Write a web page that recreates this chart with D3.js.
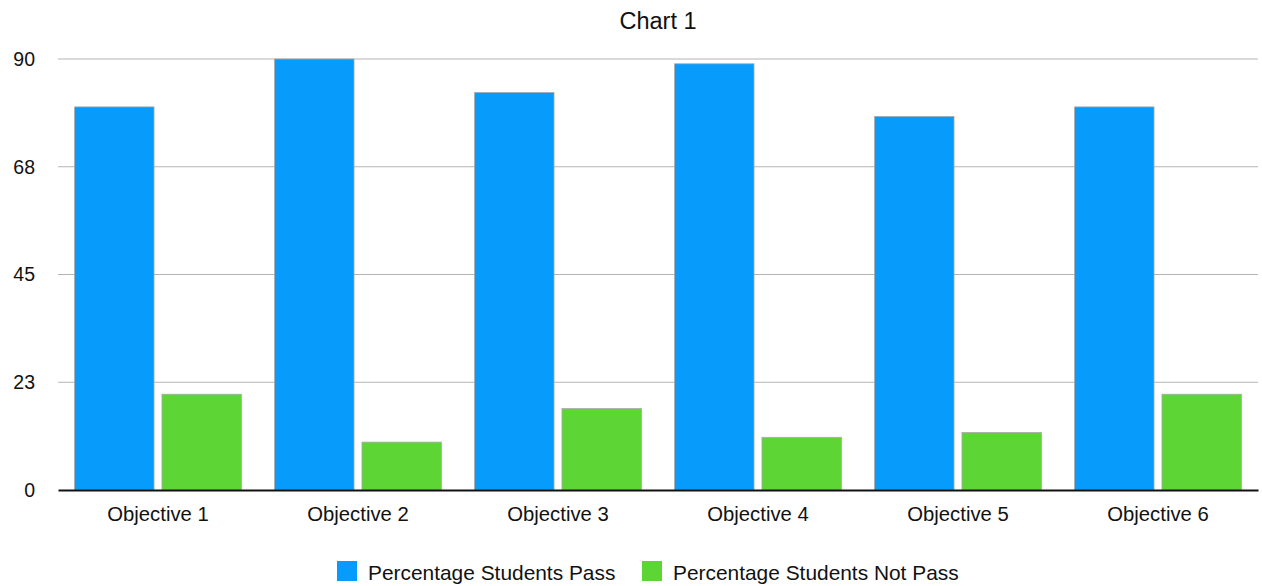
<!DOCTYPE html>
<html>
<head>
<meta charset="utf-8">
<script src="https://cdn.jsdelivr.net/npm/d3@7"></script>
<style>
  html, body { margin: 0; padding: 0; background: #fff; }
  svg { display: block; }
  text { font-family: "Liberation Sans", Arial, Helvetica, sans-serif; fill: #111; }
</style>
</head>
<body>
<svg id="chart" width="1262" height="586"></svg>
<script>
// Chart data
const categories = ["Objective 1", "Objective 2", "Objective 3", "Objective 4", "Objective 5", "Objective 6"];
const seriesNames = ["Percentage Students Pass", "Percentage Students Not Pass"];
const passValues = [80, 90, 83, 89, 78, 80];
const notPassValues = [20, 10, 17, 11, 12, 20];
const tickValues = [0, 22.5, 45, 67.5, 90];
const tickLabels = ["0", "23", "45", "68", "90"];
const seriesColors = ["#079bfc", "#5cd535"];

const width = 1262, height = 586;
const plot = { left: 58, right: 1258, top: 59, bottom: 490 };

const svg = d3.select("#chart");

const x = d3.scaleBand()
  .domain(categories)
  .range([plot.left, plot.right])
  .paddingInner(0)
  .paddingOuter(0);

const xInner = d3.scaleBand()
  .domain(seriesNames)
  .range([0, x.bandwidth()])
  .paddingInner(8 / 88)
  .paddingOuter(0.19);

const y = d3.scaleLinear()
  .domain([0, 90])
  .range([plot.bottom, plot.top]);

// Title
svg.append("text")
  .attr("x", (plot.left + plot.right) / 2)
  .attr("y", 29)
  .attr("text-anchor", "middle")
  .style("font-size", "23.5px")
  .text("Chart 1");

// Horizontal gridlines
svg.append("g")
  .selectAll("line")
  .data(tickValues.filter(v => v > 0))
  .join("line")
  .attr("x1", plot.left)
  .attr("x2", plot.right)
  .attr("y1", d => y(d))
  .attr("y2", d => y(d))
  .attr("stroke", "#b4b4b4")
  .attr("stroke-width", 1);

// Y axis labels
const yAxis = d3.axisLeft(y)
  .tickValues(tickValues)
  .tickFormat((d, i) => tickLabels[i])
  .tickSize(0)
  .tickPadding(0);

const yAxisG = svg.append("g")
  .attr("transform", `translate(35,0)`)
  .call(yAxis);
yAxisG.select(".domain").remove();
yAxisG.selectAll("text")
  .style("font-size", "19.5px")
  .style("font-family", '"Liberation Sans", Arial, sans-serif')
  .attr("fill", "#111");

// Bars
const rows = categories.map((c, i) => ({ category: c, values: [passValues[i], notPassValues[i]] }));

const groups = svg.append("g")
  .selectAll("g")
  .data(rows)
  .join("g")
  .attr("transform", d => `translate(${x(d.category)},0)`);

groups.selectAll("rect")
  .data(d => d.values.map((v, k) => ({ key: seriesNames[k], value: v, k })))
  .join("rect")
  .attr("x", d => xInner(d.key))
  .attr("width", xInner.bandwidth())
  .attr("y", d => y(d.value))
  .attr("height", d => y(0) - y(d.value))
  .attr("fill", d => seriesColors[d.k])
  .attr("stroke", "#a9a9a9")
  .attr("stroke-width", 0.8);

// Baseline and category labels
const xAxis = d3.axisBottom(x).tickSize(0).tickPadding(17);
const xAxisG = svg.append("g")
  .attr("transform", `translate(0,${plot.bottom})`)
  .call(xAxis);
xAxisG.select(".domain")
  .attr("stroke", "#111")
  .attr("stroke-width", 2);
xAxisG.selectAll("text")
  .style("font-size", "20.3px")
  .style("font-family", '"Liberation Sans", Arial, sans-serif')
  .attr("fill", "#111");

// Legend
const legendItems = [
  { name: seriesNames[0], color: seriesColors[0], x: 337 },
  { name: seriesNames[1], color: seriesColors[1], x: 642 }
];
const legend = svg.append("g")
  .selectAll("g")
  .data(legendItems)
  .join("g")
  .attr("transform", d => `translate(${d.x},561)`);
legend.append("rect")
  .attr("width", 20)
  .attr("height", 20)
  .attr("fill", d => d.color);
legend.append("text")
  .attr("x", 31)
  .attr("y", 18.5)
  .style("font-size", "20.9px")
  .text(d => d.name);
</script>
</body>
</html>
